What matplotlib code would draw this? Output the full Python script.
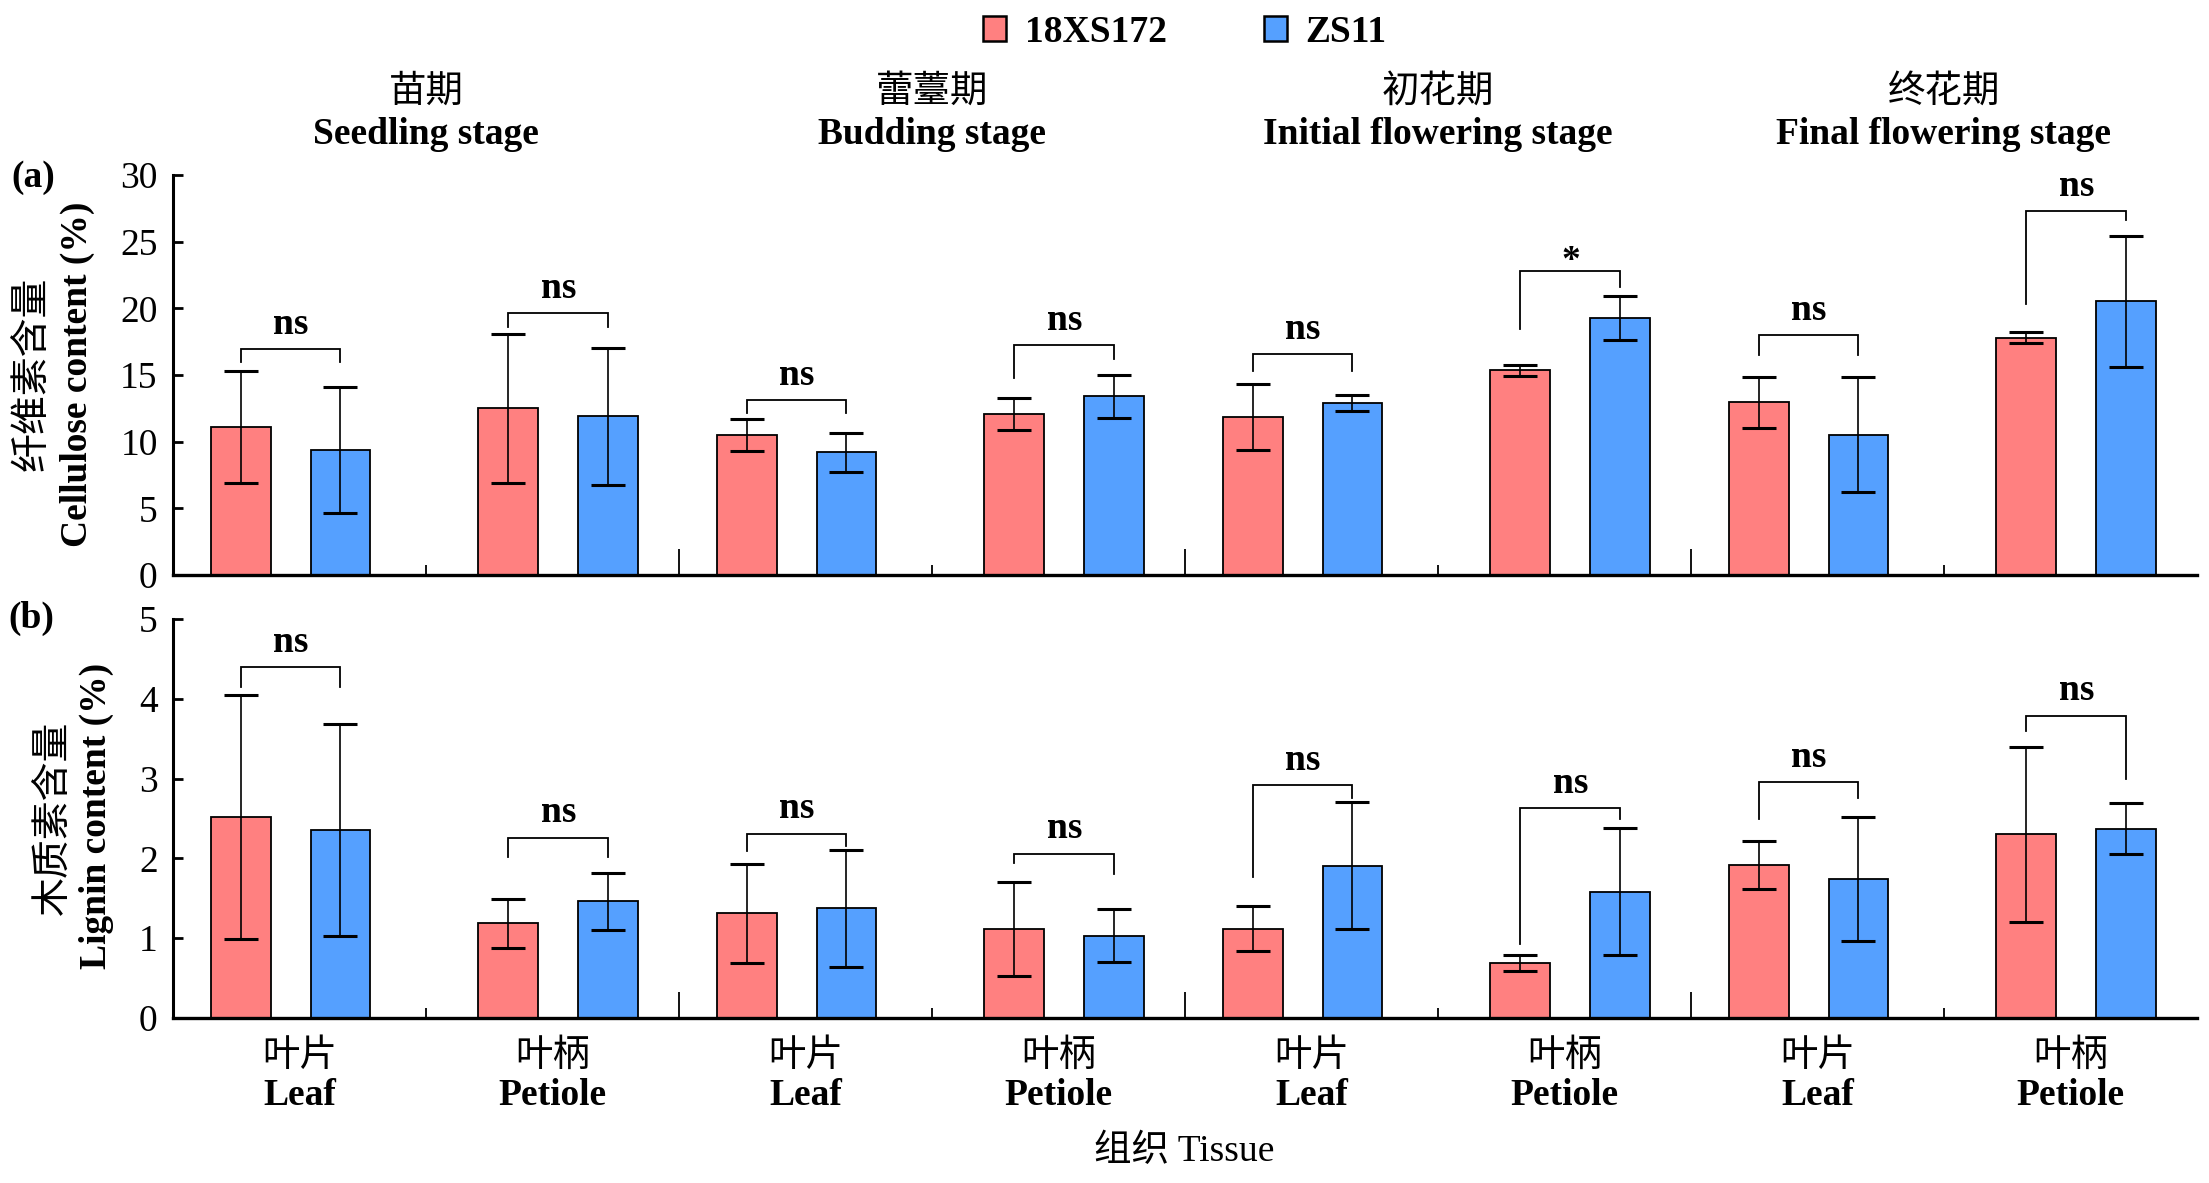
import matplotlib
matplotlib.use("Agg")
import matplotlib.pyplot as plt
from matplotlib.patches import Patch
import numpy as np

# ---------------- data ----------------
tissues_cn = ["叶片", "叶柄", "叶片", "叶柄", "叶片", "叶柄", "叶片", "叶柄"]
tissues_en = ["Leaf", "Petiole", "Leaf", "Petiole", "Leaf", "Petiole", "Leaf", "Petiole"]
stages_cn = ["苗期", "蕾薹期", "初花期", "终花期"]
stages_en = ["Seedling stage", "Budding stage", "Initial flowering stage", "Final flowering stage"]
series_names = ["18XS172", "ZS11"]

cell_red = [11.1, 12.5, 10.5, 12.1, 11.85, 15.35, 12.95, 17.8]
cell_red_err = [4.2, 5.6, 1.2, 1.2, 2.5, 0.4, 1.9, 0.4]
cell_blue = [9.37, 11.9, 9.2, 13.4, 12.93, 19.25, 10.52, 20.52]
cell_blue_err = [4.7, 5.15, 1.45, 1.6, 0.6, 1.65, 4.3, 4.9]

lig_red = [2.52, 1.185, 1.31, 1.12, 1.12, 0.69, 1.917, 2.3]
lig_red_err = [1.53, 0.31, 0.62, 0.59, 0.28, 0.1, 0.3, 1.1]
lig_blue = [2.355, 1.46, 1.373, 1.03, 1.91, 1.585, 1.744, 2.37]
lig_blue_err = [1.33, 0.36, 0.73, 0.33, 0.8, 0.8, 0.78, 0.32]

# significance brackets: (top, left leg end, right leg end)
cell_br_top = [16.95, 19.66, 13.1, 17.24, 16.58, 22.8, 17.99, 27.27]
cell_br_left = [16.0, 18.6, 12.13, 14.77, 15.29, 18.45, 16.49, 20.29]
cell_br_right = [16.0, 18.6, 12.13, 16.2, 15.29, 21.6, 16.49, 26.64]
cell_sig = ["ns", "ns", "ns", "ns", "ns", "*", "ns", "ns"]

lig_br_top = [4.40, 2.26, 2.31, 2.06, 2.92, 2.63, 2.96, 3.79]
lig_br_left = [4.15, 2.02, 2.09, 1.94, 1.77, 0.93, 2.495, 3.6]
lig_br_right = [4.15, 2.02, 2.15, 1.81, 2.76, 2.495, 2.755, 3.0]
lig_sig = ["ns", "ns", "ns", "ns", "ns", "ns", "ns", "ns"]

# ---------------- style ----------------
RED = "#FF8080"
BLUE = "#55A0FF"
SERIF = ["Liberation Serif", "Noto Sans CJK SC", "DejaVu Sans"]
CJK = ["Noto Sans CJK SC", "Liberation Serif"]
plt.rcParams["font.family"] = SERIF
plt.rcParams["axes.unicode_minus"] = False
FS = 27

W, H = 2209, 1183
fig = plt.figure(figsize=(W / 100, H / 100), dpi=100)

ax_a = fig.add_axes([173 / W, 1 - 575 / H, (2197 - 173) / W, 400 / H])
ax_b = fig.add_axes([173 / W, 1 - 1018 / H, (2197 - 173) / W, 399 / H])

n = len(tissues_en)
x = np.arange(n)
bw = 0.237
off_red = np.array([-0.233 if i % 2 == 0 else -0.174 for i in range(n)])
off_blue = np.array([0.162 if i % 2 == 0 else 0.221 for i in range(n)])
xr = x + off_red
xb = x + off_blue


def draw_panel(ax, red, red_err, blue, blue_err, br_top, br_l, br_r, sig, ymax, ystep):
    ax.bar(xr, red, width=bw, color=RED, edgecolor="black", linewidth=1.3, zorder=2)
    ax.bar(xb, blue, width=bw, color=BLUE, edgecolor="black", linewidth=1.3, zorder=2)
    for xs, v, e in ((xr, red, red_err), (xb, blue, blue_err)):
        ax.errorbar(xs, v, yerr=e, fmt="none", ecolor="black", elinewidth=1.2,
                    capsize=12, capthick=2.2, zorder=3)
    for i in range(n):
        ax.plot([xr[i], xr[i], xb[i], xb[i]], [br_l[i], br_top[i], br_top[i], br_r[i]],
                color="black", lw=1.3, zorder=4, solid_joinstyle="miter")
        yoff = 11 if sig[i] == "ns" else 0
        ax.annotate(sig[i], xy=((xr[i] + xb[i]) / 2, br_top[i]), xytext=(0, yoff),
                    textcoords="offset points", ha="center", va="baseline",
                    fontsize=FS, fontweight="bold", family=SERIF)
    ax.set_xlim(-0.5, n - 0.5)
    ax.set_ylim(0, ymax)
    ax.set_yticks(np.arange(0, ymax + 0.001, ystep))
    ax.tick_params(axis="y", direction="in", length=7, width=2, labelsize=FS, pad=11)
    for s in ("top", "right"):
        ax.spines[s].set_visible(False)
    ax.spines["left"].set_linewidth(2.2)
    ax.spines["bottom"].set_linewidth(2.4)
    # separators along the x axis
    tr = ax.get_xaxis_transform()
    short = [i + 0.5 for i in range(0, n, 2)]
    long_ = [i + 0.5 for i in range(1, n - 1, 2)]
    ax.vlines(short, 0, 10 / 400, transform=tr, color="black", lw=1.3, clip_on=False)
    ax.vlines(long_, 0, 26 / 400, transform=tr, color="black", lw=1.3, clip_on=False)


draw_panel(ax_a, cell_red, cell_red_err, cell_blue, cell_blue_err,
           cell_br_top, cell_br_left, cell_br_right, cell_sig, 30, 5)
draw_panel(ax_b, lig_red, lig_red_err, lig_blue, lig_blue_err,
           lig_br_top, lig_br_left, lig_br_right, lig_sig, 5, 1)

ax_a.set_xticks([])
# Chinese tissue names as major tick labels, English (bold) as minor tick labels
ax_b.xaxis.remove_overlapping_locs = False
ax_b.set_xticks(x)
ax_b.set_xticklabels(tissues_cn, fontsize=FS, family=CJK)
ax_b.set_xticks(x, minor=True)
ax_b.set_xticklabels(tissues_en, minor=True, fontsize=FS, fontweight="bold", family=SERIF)
ax_b.tick_params(axis="x", which="major", length=0, pad=13)
ax_b.tick_params(axis="x", which="minor", length=0, pad=43)

# stage titles centred above each leaf/petiole pair
xt = ax_a.get_xaxis_transform()
for k in range(len(stages_en)):
    xc = 2 * k + 0.5
    ax_a.text(xc, (575 - 91) / 400, stages_cn[k], transform=xt,
              ha="center", va="center", fontsize=FS, family=CJK)
    ax_a.text(xc, (575 - 134) / 400, stages_en[k], transform=xt,
              ha="center", va="center", fontsize=FS, fontweight="bold", family=SERIF)

# y labels (Chinese line + bold English line)
fig.text(32 / W, 1 - 374 / H, "纤维素含量", rotation=90, ha="center", va="center",
         fontsize=FS + 1, family=CJK)
fig.text(77 / W, 1 - 374 / H, "Cellulose content (%)", rotation=90, ha="center", va="center",
         fontsize=FS, fontweight="bold", family=SERIF)
fig.text(53 / W, 1 - 818 / H, "木质素含量", rotation=90, ha="center", va="center",
         fontsize=FS + 1, family=CJK)
fig.text(96 / W, 1 - 816 / H, "Lignin content (%)", rotation=90, ha="center", va="center",
         fontsize=FS, fontweight="bold", family=SERIF)

fig.text(1184 / W, 1 - 1152 / H, "组织 Tissue", ha="center", va="center", fontsize=FS)
fig.text(33 / W, 1 - 177 / H, "(a)", ha="center", va="center", fontsize=FS, fontweight="bold")
fig.text(31 / W, 1 - 618 / H, "(b)", ha="center", va="center", fontsize=FS, fontweight="bold")

handles = [Patch(facecolor=RED, edgecolor="black", linewidth=1.8),
           Patch(facecolor=BLUE, edgecolor="black", linewidth=1.8)]
fig.legend(handles, series_names, loc="center", bbox_to_anchor=(1185 / W, 1 - 32 / H),
           ncol=2, frameon=False, prop={"family": SERIF, "weight": "bold", "size": FS},
           handlelength=0.6, handleheight=0.65,
           handletextpad=0.5, columnspacing=2.6, borderpad=0)

fig.savefig("out.png", dpi=100)
